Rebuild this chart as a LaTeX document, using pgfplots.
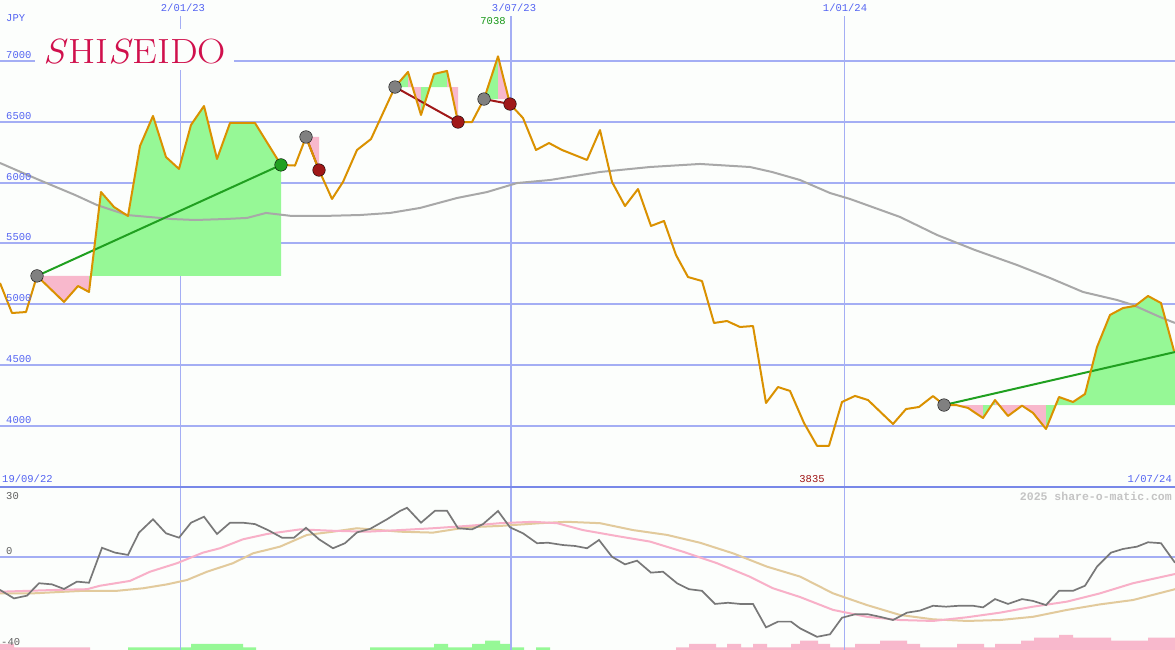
\documentclass[border=0pt]{standalone}
\usepackage{fontspec}
\usepackage{pgfplots}
\pgfplotsset{compat=1.18}
\newfontfamily\labfont{Liberation Mono}
\definecolor{bg}{RGB}{252,254,252}
\definecolor{gridc}{RGB}{164,174,244}
\definecolor{sepc}{RGB}{120,136,232}
\definecolor{labc}{RGB}{84,100,242}
\definecolor{pricec}{RGB}{218,145,0}
\definecolor{mac}{RGB}{168,168,168}
\definecolor{gfill}{RGB}{150,248,150}
\definecolor{pfill}{RGB}{248,184,204}
\definecolor{tgreen}{RGB}{32,160,32}
\definecolor{tred}{RGB}{160,24,24}
\definecolor{circg}{RGB}{128,128,128}
\definecolor{logoc}{RGB}{208,16,76}
\definecolor{osc}{RGB}{120,120,120}
\definecolor{oscp}{RGB}{248,176,200}
\definecolor{osct}{RGB}{226,202,156}
\definecolor{lbl}{RGB}{96,96,96}
\definecolor{hi}{RGB}{24,152,24}
\definecolor{lo}{RGB}{160,24,24}
\definecolor{wm}{RGB}{196,196,196}
\pgfplotsset{panel/.style={scale only axis, width=1175pt, xmin=0, xmax=1175,
  axis line style={draw=none}, tick style={draw=none}, xtick=\empty,
  yticklabels={}, ymajorgrids, grid style={gridc, line width=2pt}}}
\tikzset{lab/.style={font=\labfont\fontsize{10.5}{10.5}\selectfont, text=labc, inner sep=1pt}}
\begin{document}
\begin{tikzpicture}[x=1pt,y=1pt]
\useasboundingbox (0,0) rectangle (1175,650);
\fill[bg] (0,0) rectangle (1175,650);
% ---------- volume-like bars ----------
\begin{axis}[scale only axis, width=1175pt, height=163pt, at={(0pt,0pt)}, anchor=south west,
  xmin=0, xmax=1175, ymin=0, ymax=163, hide axis]
\addplot[const plot, fill=pfill, draw=none] coordinates {(0,6)(14,2.7)(90,2.7)} \closedcycle;
\addplot[const plot, fill=gfill, draw=none] coordinates {(128,2.7)(191,6)(243,2.7)(256,2.7)} \closedcycle;
\addplot[const plot, fill=gfill, draw=none] coordinates {(370,2.7)(434,6)(448,2.7)(472,6)(485,9.3)(500,6)(511,2.7)(524,2.7)} \closedcycle;
\addplot[const plot, fill=gfill, draw=none] coordinates {(536,2.7)(550,2.7)} \closedcycle;
\addplot[const plot, fill=pfill, draw=none] coordinates {(676,2.7)(689,6)(716,2.7)(727,6)(741,2.7)(753,6)(767,2.7)(791,6)(800,9.3)(818,6)(830,2.7)(855,6)(880,9.3)(907,6)(920,2.7)(957,6)(984,2.7)(995,6)(1021,9.3)(1034,12.3)(1059,15)(1073,12.3)(1111,9.3)(1148,12.3)(1175,12.3)} \closedcycle;
\end{axis}
% ---------- lower panel ----------
\begin{axis}[panel, height=163pt, at={(0pt,0pt)}, anchor=south west,
  ymin=-40.43, ymax=30.43, ytick={0}]
\addplot[gridc, line width=1pt] coordinates {(180,-41)(180,31)};
\addplot[gridc, line width=2pt] coordinates {(511,-41)(511,31)};
\addplot[gridc, line width=1pt] coordinates {(844,-41)(844,31)};
\addplot[osct, line width=2pt] coordinates {(0,-15.8)(33,-15.8)(83,-14.7)(117,-14.7)(143,-13.6)(167,-11.9)(187,-10.0)(207,-6.4)(233,-2.7)(253,1.6)(280,4.5)(307,9.6)(333,11.0)(357,12.5)(400,11.0)(433,10.6)(467,12.9)(500,13.5)(540,14.7)(567,15.3)(600,14.7)(633,11.7)(667,9.6)(700,6.2)(733,1.6)(767,-4.2)(800,-8.5)(833,-15.8)(867,-20.9)(900,-25.2)(933,-27.1)(967,-27.8)(1000,-27.4)(1033,-26.0)(1067,-23.0)(1100,-20.6)(1133,-18.7)(1175,-14.0)};
\addplot[oscp, line width=2pt] coordinates {(0,-15.1)(57,-14.3)(87,-14.0)(100,-12.5)(130,-10.4)(150,-6.4)(177,-2.7)(203,1.9)(220,3.8)(243,7.7)(267,10.0)(300,12.0)(333,11.4)(367,11.0)(400,11.7)(433,12.5)(467,13.5)(500,14.7)(533,15.3)(557,14.7)(583,11.7)(617,9.1)(650,6.7)(683,2.3)(717,-2.7)(750,-8.6)(773,-13.6)(800,-17.4)(833,-23.0)(867,-26.0)(900,-27.4)(933,-27.8)(967,-26.2)(1000,-24.2)(1033,-21.6)(1067,-19.4)(1100,-15.8)(1133,-11.4)(1175,-7.4)};
\addplot[osc, line width=1.7pt] coordinates {(0,-14.3)(14,-18.0)(27,-16.8)(39,-11.4)(52,-11.9)(64,-13.9)(77,-10.7)(89,-11.2)(102,4.0)(115,1.9)(128,0.9)(139,10.6)(153,16.4)(166,10.3)(179,8.4)(191,14.9)(204,17.5)(217,10.0)(230,14.9)(243,14.9)(255,14.3)(268,11.7)(282,8.4)(294,8.4)(306,12.7)(319,7.7)(333,3.8)(345,6.0)(357,10.7)(370,12.2)(387,16.4)(400,20.0)(407,21.4)(421,14.9)(435,20.1)(447,20.1)(458,12.5)(472,12.0)(483,14.3)(498,20.0)(510,12.9)(523,10.3)(537,6.0)(548,6.2)(563,5.2)(575,4.8)(587,3.8)(599,7.4)(612,0.1)(625,-3.2)(637,-1.6)(651,-6.8)(663,-6.4)(677,-11.4)(689,-14.0)(702,-14.7)(715,-20.4)(728,-19.9)(740,-20.4)(753,-20.4)(766,-30.6)(778,-28.1)(791,-28.1)(800,-31.0)(817,-34.7)(830,-33.6)(842,-26.4)(855,-24.9)(868,-24.9)(880,-26.0)(893,-27.4)(907,-24.2)(920,-23.3)(933,-21.2)(946,-21.6)(959,-21.2)(973,-21.2)(983,-21.9)(995,-18.3)(1008,-20.4)(1022,-18.3)(1033,-19.1)(1046,-20.9)(1059,-14.7)(1073,-14.7)(1085,-12.5)(1097,-4.2)(1111,1.9)(1123,3.5)(1137,4.5)(1148,6.4)(1161,6.0)(1175,-2.5)};
\end{axis}
% ---------- upper panel ----------
\begin{axis}[panel, height=487pt, at={(0pt,163pt)}, anchor=south west,
  ymin=3495.8, ymax=7501.8, ytick={4000,4500,...,7000}]
\addplot[gridc, line width=1pt] coordinates {(180,3400)(180,7600)};
\addplot[gridc, line width=2pt] coordinates {(511,3400)(511,7600)};
\addplot[gridc, line width=1pt] coordinates {(844,3400)(844,7600)};
% trade fills
\addplot[fill=pfill, draw=none] coordinates {(37,5232)(64,5018)(78,5149)(89,5100)(89,5232)} --cycle;
\addplot[fill=gfill, draw=none] coordinates {(89,5232)(89,5100)(101,5922)(114,5799)(128,5725)(140,6301)(153,6548)(166,6210)(179,6112)(191,6474)(204,6630)(217,6194)(230,6490)(255,6490)(281,6145)(281,5232)} --cycle;
\addplot[fill=pfill, draw=none] coordinates {(306,6375)(319,6103)(319,6375)} --cycle;
\addplot[fill=gfill, draw=none] coordinates {(395,6786)(408,6910)(408,6786)} --cycle;
\addplot[fill=pfill, draw=none] coordinates {(408,6786)(408,6910)(421,6556)(421,6786)} --cycle;
\addplot[fill=gfill, draw=none] coordinates {(421,6786)(421,6556)(434,6893)(447,6918)(447,6786)} --cycle;
\addplot[fill=pfill, draw=none] coordinates {(447,6786)(447,6918)(458,6498)(458,6786)} --cycle;
\addplot[fill=gfill, draw=none] coordinates {(484,6687)(498,7038)(498,6687)} --cycle;
\addplot[fill=pfill, draw=none] coordinates {(498,6687)(498,7038)(510,6646)(510,6687)} --cycle;
\addplot[fill=pfill, draw=none] coordinates {(956,4170)(968,4146)(983,4063)(983,4170)} --cycle;
\addplot[fill=gfill, draw=none] coordinates {(983,4170)(983,4063)(995,4211)(995,4170)} --cycle;
\addplot[fill=pfill, draw=none] coordinates {(995,4170)(995,4211)(1008,4080)(1022,4165)(1033,4105)(1046,3973)(1046,4170)} --cycle;
\addplot[fill=gfill, draw=none] coordinates {(1046,4170)(1046,3973)(1059,4236)(1073,4195)(1085,4261)(1097,4647)(1110,4911)(1123,4968)(1135,4985)(1148,5067)(1161,5009)(1174,4615)(1175,4606)(1175,4170)} --cycle;
% moving average
\addplot[mac, line width=2pt] coordinates {(0,6161)(37,6029)(75,5898)(97,5815)(127,5733)(172,5700)(195,5692)(225,5700)(247,5709)(266,5750)(292,5725)(322,5725)(360,5733)(390,5750)(420,5791)(457,5873)(487,5922)(517,5996)(550,6021)(600,6087)(650,6128)(700,6153)(750,6128)(772,6087)(800,6021)(830,5914)(850,5865)(900,5717)(937,5569)(975,5445)(1017,5322)(1050,5215)(1083,5100)(1117,5034)(1133,4993)(1160,4894)(1175,4845)};
% trend lines
\addplot[tgreen, line width=2pt] coordinates {(37,5232)(281,6145)};
\addplot[tgreen, line width=2pt] coordinates {(944,4170)(1175,4606)};
\addplot[tred, line width=2pt] coordinates {(306,6375)(319,6103)};
\addplot[tred, line width=2pt] coordinates {(395,6786)(458,6498)};
\addplot[tred, line width=2pt] coordinates {(484,6687)(510,6646)};
% markers
\addplot[only marks, mark=*, mark size=6.3pt, mark options={draw=none, fill=circg}] coordinates {(37,5232)(306,6375)(395,6786)(484,6687)(944,4170)};
\addplot[only marks, mark=*, mark size=6.3pt, mark options={draw=none, fill=tgreen}] coordinates {(281,6145)};
\addplot[only marks, mark=*, mark size=6.3pt, mark options={draw=none, fill=tred}] coordinates {(319,6103)(458,6498)(510,6646)};
% price
\addplot[pricec, line width=2pt, line join=round] coordinates {(0,5174)(12,4927)(26,4935)(37,5232)(64,5018)(78,5149)(89,5100)(101,5922)(114,5799)(128,5725)(140,6301)(153,6548)(166,6210)(179,6112)(191,6474)(204,6630)(217,6194)(230,6490)(255,6490)(281,6145)(295,6140)(306,6375)(319,6103)(332,5865)(343,6005)(357,6268)(371,6358)(395,6786)(408,6910)(421,6556)(434,6893)(447,6918)(458,6498)(472,6498)(484,6687)(498,7038)(510,6646)(523,6531)(536,6268)(549,6325)(562,6268)(587,6186)(600,6432)(612,6005)(625,5807)(638,5947)(651,5643)(664,5684)(676,5404)(688,5223)(702,5190)(714,4845)(727,4861)(740,4812)(753,4820)(766,4187)(778,4318)(790,4286)(804,4022)(817,3835)(829,3835)(842,4195)(855,4245)(868,4211)(893,4014)(906,4137)(919,4154)(933,4244)(944,4170)(956,4170)(968,4146)(983,4063)(995,4211)(1008,4080)(1022,4165)(1033,4105)(1046,3973)(1059,4236)(1073,4195)(1085,4261)(1097,4647)(1110,4911)(1123,4968)(1135,4985)(1148,5067)(1161,5009)(1174,4615)};
\end{axis}
% separator
\draw[sepc, line width=2pt] (0,163) -- (1175,163);
% logo
\fill[bg] (35,580) rectangle (234,621);
\node[anchor=base, text=logoc, inner sep=0pt] at (135,586) {\fontsize{35}{35}\selectfont\scalebox{1.12}[1]{\textit{S}HI\textit{S}EIDO}};
% top labels
\node[lab, anchor=west] at (5,632) {JPY};
\node[lab, anchor=north, fill=bg, minimum height=16pt] at (183,650) {2/01/23};
\node[lab, anchor=north, fill=bg, minimum height=16pt] at (514,650) {3/07/23};
\node[lab, anchor=north, fill=bg, minimum height=16pt] at (845,650) {1/01/24};
\node[lab, text=hi, fill=bg, minimum height=12pt] at (493,629) {7038};
\node[lab, anchor=west] at (5,595) {7000};
\node[lab, anchor=west] at (5,534.2) {6500};
\node[lab, anchor=west] at (5,473.4) {6000};
\node[lab, anchor=west] at (5,412.6) {5500};
\node[lab, anchor=west] at (5,351.9) {5000};
\node[lab, anchor=west] at (5,291.1) {4500};
\node[lab, anchor=west] at (5,230.3) {4000};
\node[lab, anchor=west] at (1,171) {19/09/22};
\node[lab, anchor=east] at (1173,171) {1/07/24};
\node[lab, text=lo] at (812,171) {3835};
\node[anchor=east, inner sep=1pt, text=wm, font=\labfont\bfseries\fontsize{11.5}{11.5}\selectfont] at (1173,153.5) {2025 share-o-matic.com};
\node[lab, text=lbl, anchor=west] at (5,154) {30};
\node[lab, text=lbl, anchor=west] at (5,99) {0};
\node[lab, text=lbl, anchor=west] at (0,8) {-40};
\end{tikzpicture}
\end{document}
